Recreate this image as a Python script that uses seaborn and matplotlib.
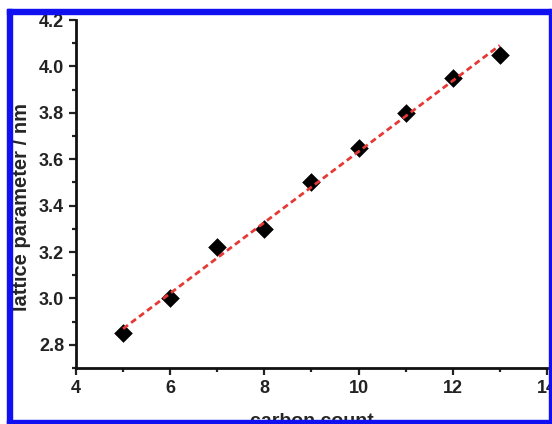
import matplotlib
matplotlib.use("Agg")
import matplotlib.pyplot as plt
import seaborn as sns
import pandas as pd
from matplotlib.patches import Rectangle
from matplotlib.ticker import MultipleLocator

# data
carbon_count = [5, 6, 7, 8, 9, 10, 11, 12, 13]
lattice_param = [2.85, 3.00, 3.22, 3.30, 3.50, 3.65, 3.80, 3.95, 4.05]
x_ticks = [4, 6, 8, 10, 12, 14]
y_ticks = [2.8, 3.0, 3.2, 3.4, 3.6, 3.8, 4.0, 4.2]

df = pd.DataFrame({"carbon count": carbon_count, "lattice parameter": lattice_param})

sns.set_style("ticks")
plt.rcParams["font.family"] = ["Liberation Sans", "DejaVu Sans"]
plt.rcParams["font.weight"] = "bold"

fig = plt.figure(figsize=(5.52, 4.24), dpi=100)
ax = fig.add_axes([0.1377, 0.132, 0.853, 0.8208])

sns.regplot(data=df, x="carbon count", y="lattice parameter", ax=ax,
            scatter=False, ci=None,
            line_kws=dict(color="#e53935", lw=2.0, ls=(0, (2.2, 1.4)), zorder=4))
sns.scatterplot(data=df, x="carbon count", y="lattice parameter", ax=ax,
                marker="D", s=90, color="black", edgecolor="black",
                linewidth=0, zorder=3)

ax.set_xlim(4, 14)
ax.set_ylim(2.7, 4.2)
ax.set_xticks(x_ticks)
ax.set_yticks(y_ticks)
ax.set_yticklabels([f"{v:.1f}" for v in y_ticks])
ax.xaxis.set_minor_locator(MultipleLocator(1))
ax.yaxis.set_minor_locator(MultipleLocator(0.1))
ax.tick_params(which="major", length=5, width=1.6, labelsize=13, colors="#222222")
ax.tick_params(which="minor", length=3, width=1.6, colors="#222222")
for lbl in ax.get_xticklabels() + ax.get_yticklabels():
    lbl.set_fontweight("bold")

sns.despine(ax=ax)
for side in ["left", "bottom"]:
    ax.spines[side].set_linewidth(2)
    ax.spines[side].set_color("#111111")

ax.set_xlabel("carbon count", fontsize=14, fontweight="bold")
ax.set_ylabel("lattice parameter / nm", fontsize=14.5, fontweight="bold")
ax.xaxis.set_label_coords(0.5, -0.13)
ax.yaxis.set_label_coords(-0.0955, 0.463)

# blue frame around the picture
W, H = 552, 424
blue = "#1010f0"
def band(x0, y0, x1, y1):
    fig.patches.append(Rectangle((x0 / W, 1 - y1 / H), (x1 - x0) / W, (y1 - y0) / H,
                                 transform=fig.transFigure, color=blue, zorder=10))
band(7, 9, 551, 14)
band(7, 9, 12, 424)
band(549, 9, 551, 424)
band(7, 420, 551, 423)

fig.savefig("out.png", dpi=100)
